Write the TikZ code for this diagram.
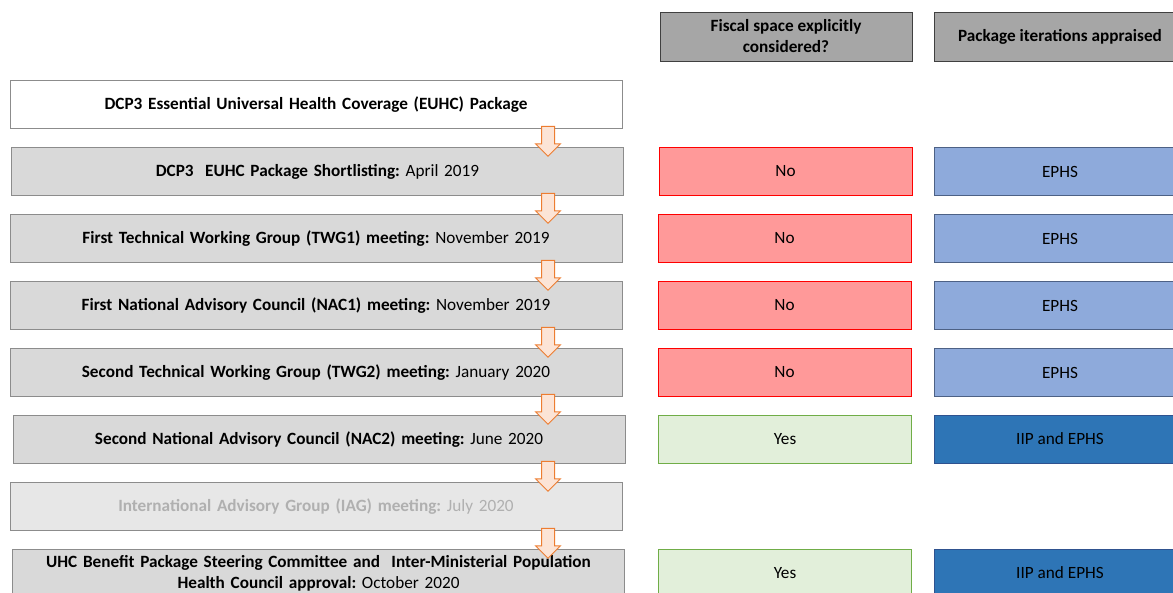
\documentclass[tikz,border=0pt]{standalone}
\usepackage{fontspec}
\setmainfont{Carlito}
\frenchspacing
\usetikzlibrary{shapes.arrows}
\definecolor{stageline}{HTML}{8C8C8C}
\definecolor{stagefill}{HTML}{D9D9D9}
\definecolor{fadefill}{HTML}{E7E7E7}
\definecolor{fadetext}{HTML}{B0B0B0}
\definecolor{headfill}{HTML}{A6A6A6}
\definecolor{headline}{HTML}{404040}
\definecolor{nofill}{HTML}{FF9999}
\definecolor{noline}{HTML}{FF0000}
\definecolor{yesfill}{HTML}{E2EFDA}
\definecolor{yesline}{HTML}{70AD47}
\definecolor{ephsfill}{HTML}{8EAADB}
\definecolor{ephsline}{HTML}{4D6185}
\definecolor{iipfill}{HTML}{2E75B6}
\definecolor{iipline}{HTML}{2F528F}
\definecolor{arrowfill}{HTML}{FCE4D6}
\definecolor{arrowline}{HTML}{ED7D31}
\begin{document}
\begin{tikzpicture}[x=1pt,y=-1pt,
    every node/.style={font=\fontsize{17.2}{21}\selectfont,align=center,inner sep=2pt},
    stage/.style={draw=stageline,line width=1pt,fill=stagefill,minimum width=612pt,minimum height=48pt,text width=600pt},
    header/.style={draw=headline,line width=1pt,fill=headfill,minimum width=252pt,minimum height=49pt,font=\fontsize{17.2}{21}\selectfont\bfseries},
    fiscalno/.style={draw=noline,line width=1pt,fill=nofill,minimum width=253pt,minimum height=48pt},
    fiscalyes/.style={draw=yesline,line width=1pt,fill=yesfill,minimum width=253pt,minimum height=48pt},
    ephs/.style={draw=ephsline,line width=1pt,fill=ephsfill,minimum width=252pt,minimum height=48pt},
    iip/.style={draw=iipline,line width=1pt,fill=iipfill,minimum width=252pt,minimum height=48pt},
    down/.style={single arrow,draw=arrowline,line width=1pt,fill=arrowfill,shape border rotate=270,
      minimum height=30pt,minimum width=24pt,single arrow head extend=6pt,single arrow tip angle=90,inner sep=6pt}]
  \useasboundingbox (0,0) rectangle (1173,592);
  \clip (0,0) rectangle (1173,592);
  % column headers
  \node[header] (hfiscal) at (786,36.5) {Fiscal space explicitly\\considered?};
  \node[header] (hpack) at (1060,36.5) {Package iterations appraised};
  % stages
  \node[stage,fill=white] (s0) at (316,104.5) {\bfseries DCP3 Essential Universal Health Coverage (EUHC) Package};
  \node[stage] (s1) at (317.5,171.5) {\textbf{DCP3~ EUHC Package Shortlisting:} April 2019};
  \node[stage] (s2) at (316,238.5) {\textbf{First Technical Working Group (TWG1) meeting:} November 2019};
  \node[stage] (s3) at (316,305.5) {\textbf{First National Advisory Council (NAC1) meeting:} November 2019};
  \node[stage] (s4) at (316,372.5) {\textbf{Second Technical Working Group (TWG2) meeting:} January 2020};
  \node[stage] (s5) at (319,439.5) {\textbf{Second National Advisory Council (NAC2) meeting:} June 2020};
  \node[stage,fill=fadefill,text=fadetext] (s6) at (316,506.5) {\textbf{International Advisory Group (IAG) meeting:} July 2020};
  \node[stage] (s7) at (318.5,573.5) {\textbf{UHC Benefit Package Steering Committee and~ Inter-Ministerial Population}\\\textbf{Health Council approval:} October 2020};
  % arrows between stages
  \foreach \y in {138,205,272,339,406,473,540}
    \node[down] at (548,\y) {};
  % fiscal space column
  \node[fiscalno] (f1) at (785.5,171.5) {No};
  \node[fiscalno] (f2) at (784.5,238.5) {No};
  \node[fiscalno] (f3) at (784.5,305.5) {No};
  \node[fiscalno] (f4) at (784.5,372.5) {No};
  \node[fiscalyes] (f5) at (785,439) {Yes};
  \node[fiscalyes] (f7) at (785,573) {Yes};
  % package column
  \node[ephs] (p1) at (1060,171.5) {EPHS};
  \node[ephs] (p2) at (1060,238.5) {EPHS};
  \node[ephs] (p3) at (1060,305.5) {EPHS};
  \node[ephs] (p4) at (1060,372.5) {EPHS};
  \node[iip] (p5) at (1060,439) {IIP and EPHS};
  \node[iip] (p7) at (1060,573) {IIP and EPHS};
\end{tikzpicture}
\end{document}
